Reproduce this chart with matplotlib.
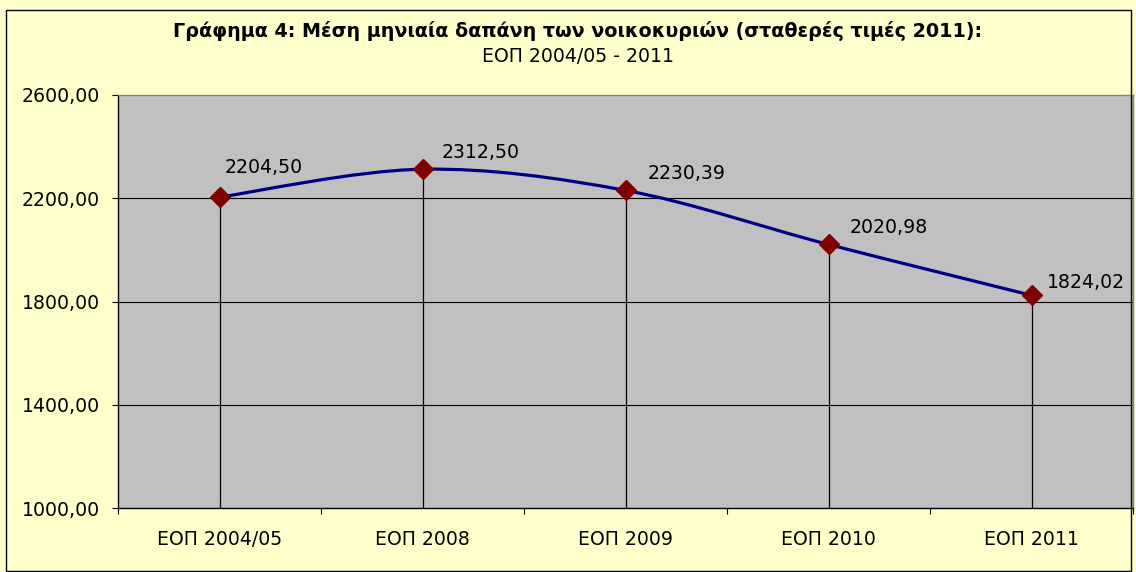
import numpy as np
import matplotlib
matplotlib.use('Agg')
import matplotlib.pyplot as plt
from matplotlib.path import Path
from matplotlib.patches import PathPatch, Rectangle

plt.rcParams['font.family'] = ['DejaVu Sans']

# ── data ──────────────────────────────────────────────────────────────────────
categories = ['ΕΟΠ 2004/05', 'ΕΟΠ 2008', 'ΕΟΠ 2009', 'ΕΟΠ 2010', 'ΕΟΠ 2011']
spending = [2204.50, 2312.50, 2230.39, 2020.98, 1824.02]
value_labels = ['2204,50', '2312,50', '2230,39', '2020,98', '1824,02']
yticks = [1000, 1400, 1800, 2200, 2600]
ytick_labels = ['1000,00', '1400,00', '1800,00', '2200,00', '2600,00']

# label offsets in points (dx, dy), as placed in the original
label_offsets = [(4, 21), (14, 12), (16, 12), (15, 12), (11, 9)]

bg = '#FFFFCC'
plot_bg = '#C0C0C0'
line_c = '#000080'
marker_c = '#800000'
fs = 13.6

fig = plt.figure(figsize=(11.36, 5.72), dpi=100, facecolor=bg)
ax = fig.add_axes([118 / 1136, (572 - 508) / 572, 1015 / 1136, 413 / 572])
ax.set_facecolor(plot_bg)

# outer chart border
fig.patches.append(Rectangle((6 / 1136, 1 / 572), 1125 / 1136, 561 / 572,
                             transform=fig.transFigure, fill=False,
                             edgecolor='black', linewidth=1.0))

x = np.arange(len(categories))
y = np.array(spending)

ax.set_xlim(-0.5, len(categories) - 0.5)
ax.set_ylim(1000, 2600)

# gridlines
for t in yticks[1:-1]:
    ax.axhline(t, color='black', linewidth=0.8, zorder=1)

# drop lines
ax.vlines(x, 1000, y, color='black', linewidth=0.9, zorder=2)

# smoothed line (Catmull-Rom style bezier like Excel)
pts = np.column_stack([x, y])
verts = [tuple(pts[0])]
codes = [Path.MOVETO]
for i in range(len(pts) - 1):
    p0 = pts[i - 1] if i > 0 else pts[i]
    p1 = pts[i]
    p2 = pts[i + 1]
    p3 = pts[i + 2] if i + 2 < len(pts) else pts[i + 1]
    c1 = p1 + (p2 - p0) / 6
    c2 = p2 - (p3 - p1) / 6
    verts += [tuple(c1), tuple(c2), tuple(p2)]
    codes += [Path.CURVE4] * 3
ax.add_patch(PathPatch(Path(verts, codes), facecolor='none', edgecolor=line_c,
                       linewidth=2.3, zorder=3, capstyle='round', joinstyle='round'))

ax.plot(x, y, linestyle='none', marker='D', markersize=10.5,
        markerfacecolor=marker_c, markeredgecolor=marker_c, zorder=4)

for xi, yi, lab, (dx, dy) in zip(x, y, value_labels, label_offsets):
    ax.annotate(lab, (xi, yi), xytext=(dx, dy), textcoords='offset points',
                ha='left', va='center', fontsize=fs, color='black')

# axes styling
for side in ['top', 'right']:
    ax.spines[side].set_color('#808080')
    ax.spines[side].set_linewidth(1.0)
for side in ['left', 'bottom']:
    ax.spines[side].set_color('black')
    ax.spines[side].set_linewidth(1.0)

ax.set_yticks(yticks)
ax.set_yticklabels(ytick_labels, fontsize=fs)
ax.tick_params(axis='y', direction='out', length=4, width=0.8, pad=9)

ax.set_xticks(x)
ax.set_xticklabels(categories, fontsize=fs)
ax.set_xticks(np.arange(len(categories) + 1) - 0.5, minor=True)
ax.tick_params(axis='x', which='major', length=0, pad=16)
ax.tick_params(axis='x', which='minor', direction='out', length=4, width=0.8)

fig.text(578 / 1136, 1 - 31 / 572,
         'Γράφημα 4: Μέση μηνιαία δαπάνη των νοικοκυριών (σταθερές τιμές 2011):',
         ha='center', va='center', fontsize=13.8, fontweight='bold')
fig.text(578 / 1136, 1 - 57 / 572, 'ΕΟΠ 2004/05 - 2011',
         ha='center', va='center', fontsize=fs)

fig.savefig('out.png', dpi=100, facecolor=bg)
